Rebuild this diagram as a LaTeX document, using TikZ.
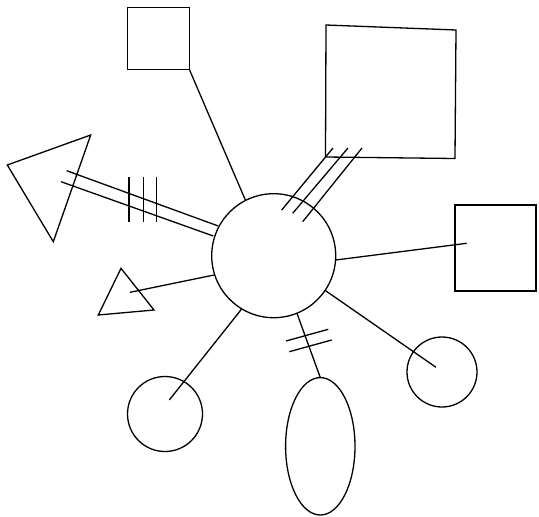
\documentclass[tikz,border=0pt]{standalone}
\usetikzlibrary{shapes.geometric}
\begin{document}
\begin{tikzpicture}[x=1pt,y=-1pt,line width=1.3pt,
  fig/.style={draw,inner sep=0pt,outer sep=0pt},
  link/.style={line width=1.3pt},
  tick/.style={line width=1.3pt}]
\useasboundingbox (0,0) rectangle (539,517);
% hub
\node[fig,circle,minimum size=124pt] (hub) at (273.7,255.7) {};
% small square
\node[fig,rectangle,minimum width=62pt,minimum height=62pt] (sq) at (158.3,38.3) {};
% big square (slightly skewed)
\coordinate (bs1) at (326,25);
\coordinate (bs2) at (456,30);
\coordinate (bs3) at (455,158.5);
\coordinate (bs4) at (325.5,157);
\draw (bs1) -- (bs2) -- (bs3) -- (bs4) -- cycle;
% right rectangle
\node[fig,rectangle,minimum width=81pt,minimum height=86pt] (rr) at (495.5,248) {};
% bottom-right circle
\node[fig,circle,minimum size=70pt] (brc) at (442,372) {};
% ellipse
\node[fig,ellipse,minimum width=69.4pt,minimum height=137.4pt] (ell) at (320.3,446.3) {};
% bottom-left circle
\node[fig,circle,minimum size=75pt] (blc) at (165,414) {};
% small triangle
\coordinate (st1) at (121,268.3);
\coordinate (st2) at (98.3,315);
\coordinate (st3) at (154,310);
\draw (st1) -- (st2) -- (st3) -- cycle;
% big triangle
\coordinate (bt1) at (7.3,165);
\coordinate (bt2) at (90.7,135);
\coordinate (bt3) at (53.3,241.7);
\draw (bt1) -- (bt2) -- (bt3) -- cycle;

% connectors
\draw[link] (sq.south east) -- (hub.117);
\coordinate (rrin) at (466.7,243.3);
\draw[link] (hub.-4) -- (rrin);
\coordinate (brcin) at (436,367.3);
\draw[link] (hub.-34.2) -- (brcin);
\draw[link] (hub.-68.2) -- (ell.north);
\coordinate (blcin) at (169.3,400);
\draw[link] (hub.-121.3) -- (blcin);
\coordinate (stin) at (130,292.3);
\draw[link] (hub.-162.4) -- (stin);

% double line to big triangle
\coordinate (dA1) at (66.7,170.7);
\coordinate (dA2) at (218.3,226);
\coordinate (dB1) at (61,181.7);
\coordinate (dB2) at (213.3,236);
\draw[link] (dA1) -- (dA2);
\draw[link] (dB1) -- (dB2);
\foreach \x in {129,143.3,156.7}
  \draw[tick] (\x,177.3) -- (\x,221.7);

% triple line to big square
\coordinate (tA1) at (281.7,210);
\coordinate (tA2) at (333,148);
\coordinate (tB1) at (292.7,213.3);
\coordinate (tB2) at (348,148);
\coordinate (tC1) at (302.7,221.7);
\coordinate (tC2) at (362,148);
\draw[link] (tA1) -- (tA2);
\draw[link] (tB1) -- (tB2);
\draw[link] (tC1) -- (tC2);

% ticks on ellipse connector
\draw[tick] (286,341) -- (328.3,329.3);
\draw[tick] (289.3,351.7) -- (331.7,340);
\end{tikzpicture}
\end{document}
